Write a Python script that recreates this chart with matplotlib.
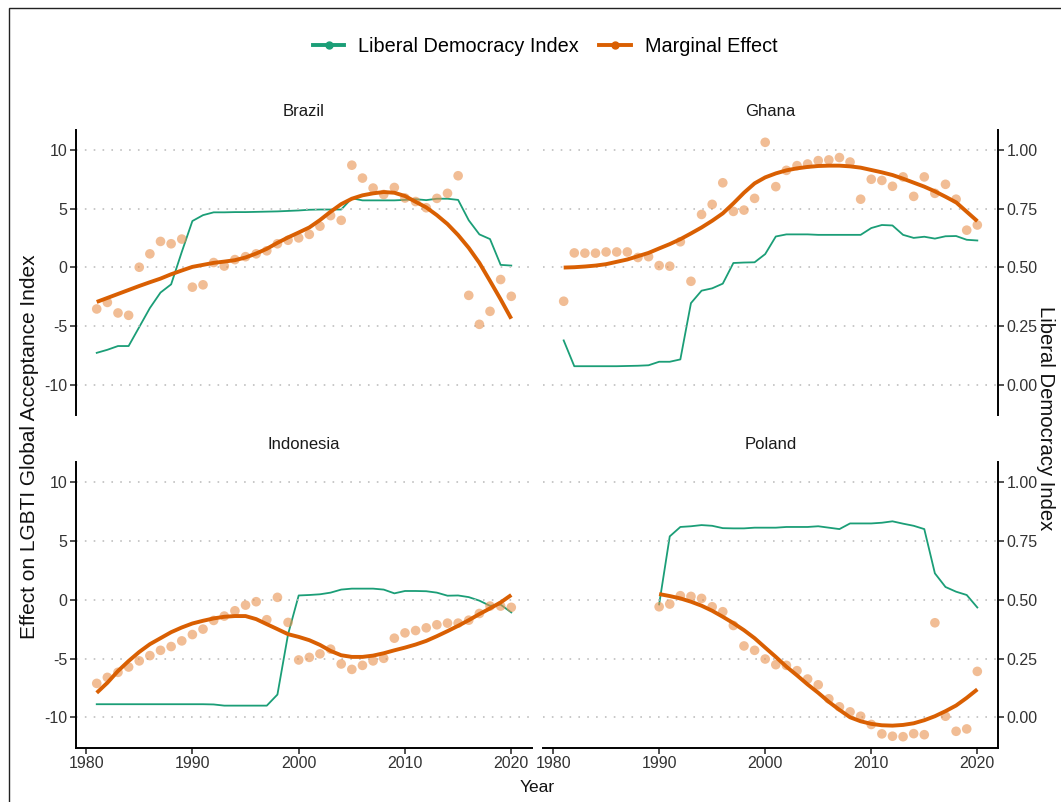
import matplotlib
matplotlib.use("Agg")
import matplotlib.pyplot as plt
from matplotlib.lines import Line2D
from matplotlib.patches import Rectangle

plt.rcParams['font.family'] = ['Liberation Sans', 'DejaVu Sans']

GREEN = '#1b9e77'
ORANGE = '#d95f02'

years_81 = list(range(1981, 2021))
years_90 = list(range(1990, 2021))

# ---------------- Brazil ----------------
brazil_effect = [-3.56, -3.0, -3.9, -4.1, 0.0, 1.14, 2.2, 2.0, 2.4, -1.7,
                 -1.5, 0.4, 0.1, 0.65, 0.9, 1.14, 1.4, 2.0, 2.3, 2.5,
                 2.8, 3.5, 4.4, 4.0, 8.7, 7.6, 6.75, 6.2, 6.8, 5.9,
                 5.6, 5.07, 5.87, 6.3, 7.8, -2.4, -4.87, -3.76, -1.05, -2.48]
brazil_ldi = [0.135, 0.148, 0.164, 0.164, 0.245, 0.326, 0.392, 0.427, 0.565, 0.697,
              0.722, 0.734, 0.734, 0.735, 0.735, 0.736, 0.737, 0.738, 0.740, 0.742,
              0.745, 0.746, 0.746, 0.746, 0.794, 0.785, 0.785, 0.785, 0.785, 0.787,
              0.790, 0.786, 0.792, 0.792, 0.787, 0.700, 0.640, 0.620, 0.510, 0.507]
brazil_smooth = [-2.96, -2.62, -2.28, -1.94, -1.6, -1.28, -0.97, -0.6, -0.28, 0.03,
                 0.2, 0.37, 0.48, 0.6, 0.83, 1.17, 1.57, 2.08, 2.54, 2.96,
                 3.39, 4.02, 4.73, 5.38, 5.84, 6.13, 6.3, 6.41, 6.35, 6.07,
                 5.58, 5.1, 4.44, 3.68, 2.74, 1.65, 0.37, -1.17, -2.74, -4.39]

# ---------------- Ghana ----------------
ghana_effect = [-2.9, 1.22, 1.2, 1.2, 1.3, 1.3, 1.3, 0.83, 0.9, 0.14,
                0.09, 2.17, -1.2, 4.5, 5.36, 7.2, 4.76, 4.87, 5.87, 10.65,
                6.87, 8.26, 8.66, 8.8, 9.09, 9.15, 9.35, 8.97, 5.8, 7.5,
                7.4, 6.9, 7.7, 6.04, 7.7, 6.3, 7.07, 5.8, 3.16, 3.6]
ghana_ldi = [0.188, 0.078, 0.078, 0.078, 0.078, 0.078, 0.079, 0.080, 0.082, 0.097,
             0.097, 0.107, 0.347, 0.400, 0.410, 0.430, 0.518, 0.520, 0.521, 0.556,
             0.631, 0.640, 0.640, 0.640, 0.638, 0.638, 0.638, 0.638, 0.638, 0.667,
             0.680, 0.678, 0.638, 0.625, 0.630, 0.622, 0.632, 0.633, 0.617, 0.614]
ghana_smooth = [-0.03, 0.0, 0.06, 0.14, 0.26, 0.46, 0.66, 0.94, 1.22, 1.6,
                1.97, 2.39, 2.88, 3.39, 3.96, 4.59, 5.44, 6.35, 7.15, 7.66,
                8.0, 8.26, 8.43, 8.55, 8.63, 8.66, 8.66, 8.6, 8.49, 8.29,
                8.09, 7.86, 7.55, 7.21, 6.87, 6.47, 6.01, 5.53, 4.73, 3.93]

# ---------------- Indonesia ----------------
indonesia_effect = [-7.11, -6.6, -6.17, -5.72, -5.2, -4.75, -4.3, -3.98, -3.5, -2.96,
                    -2.5, -1.76, -1.39, -0.94, -0.46, -0.17, -1.7, 0.2, -1.93, -5.12,
                    -4.9, -4.6, -4.2, -5.46, -5.92, -5.58, -5.2, -4.98, -3.27, -2.82,
                    -2.62, -2.39, -2.13, -1.99, -1.99, -1.74, -1.17, -0.54, -0.54, -0.65]
indonesia_ldi = [0.056, 0.056, 0.056, 0.056, 0.056, 0.056, 0.056, 0.056, 0.056, 0.056,
                 0.056, 0.055, 0.050, 0.050, 0.050, 0.050, 0.050, 0.097, 0.353, 0.518,
                 0.520, 0.523, 0.530, 0.543, 0.547, 0.547, 0.547, 0.543, 0.527, 0.537,
                 0.537, 0.536, 0.530, 0.517, 0.518, 0.511, 0.496, 0.474, 0.479, 0.446]
indonesia_smooth = [-7.91, -7.06, -6.06, -5.21, -4.44, -3.78, -3.27, -2.76, -2.36, -2.02,
                    -1.79, -1.59, -1.45, -1.39, -1.39, -1.65, -2.08, -2.5, -2.93, -3.16,
                    -3.44, -3.84, -4.35, -4.72, -4.86, -4.86, -4.75, -4.55, -4.3, -4.07,
                    -3.81, -3.5, -3.1, -2.67, -2.22, -1.74, -1.22, -0.74, -0.23, 0.4]

# ---------------- Poland (1990-2020) ----------------
poland_effect = [-0.6, -0.37, 0.34, 0.28, 0.11, -0.6, -1.02, -2.19, -3.93, -4.3,
                 -5.04, -5.52, -5.58, -6.03, -6.74, -7.23, -8.42, -9.1, -9.53, -9.9,
                 -10.6, -11.4, -11.6, -11.64, -11.38, -11.47, -1.96, -9.9, -11.18, -10.98,
                 -6.09]
poland_ldi = [0.480, 0.769, 0.809, 0.812, 0.817, 0.814, 0.804, 0.803, 0.803, 0.806,
              0.806, 0.806, 0.809, 0.809, 0.809, 0.812, 0.806, 0.800, 0.824, 0.824,
              0.824, 0.827, 0.833, 0.823, 0.814, 0.800, 0.612, 0.554, 0.534, 0.520,
              0.467]
poland_smooth = [0.48, 0.31, 0.11, -0.17, -0.51, -0.94, -1.45, -1.99, -2.59, -3.27,
                 -4.07, -4.86, -5.69, -6.43, -7.2, -7.91, -8.68, -9.36, -9.99, -10.33,
                 -10.55, -10.67, -10.7, -10.64, -10.5, -10.24, -9.9, -9.47, -8.99, -8.34,
                 -7.62]

countries = ['Brazil', 'Ghana', 'Indonesia', 'Poland']
panel_years = [years_81, years_81, years_81, years_90]
panel_effect = [brazil_effect, ghana_effect, indonesia_effect, poland_effect]
panel_ldi = [brazil_ldi, ghana_ldi, indonesia_ldi, poland_ldi]
panel_smooth = [brazil_smooth, ghana_smooth, indonesia_smooth, poland_smooth]

y_ticks = [-10, -5, 0, 5, 10]
ldi_ticks = [0.0, 0.25, 0.5, 0.75, 1.0]
ldi_tick_labels = ['0.00', '0.25', '0.50', '0.75', '1.00']
x_ticks = [1980, 1990, 2000, 2010, 2020]

W, H = 1061, 802
fig = plt.figure(figsize=(W / 100, H / 100), dpi=100)

def fx(px):
    return px / W

def fy(py):
    return 1 - py / H

# axes rectangles in pixels: (left, top, right, bottom)
rects = [(76, 130, 532, 415), (543, 130, 998, 415),
         (76, 462, 532, 748), (543, 462, 998, 748)]

YLIM = (-12.6, 11.7)
XLIM = (1979.05, 2021.95)
LDI_LIM = ((YLIM[0] + 10) / 20, (YLIM[1] + 10) / 20)

TICK_COLOR = '#222222'
LABEL_COLOR = '#333333'

for i, (name, yrs, eff, ldi, sm) in enumerate(zip(countries, panel_years, panel_effect,
                                                 panel_ldi, panel_smooth)):
    l, t, r, b = rects[i]
    ax = fig.add_axes([fx(l), fy(b), fx(r) - fx(l), (b - t) / H])
    tw = ax.twinx()
    tw.set_zorder(ax.get_zorder() - 1)
    ax.patch.set_visible(False)

    ax.set_xlim(*XLIM)
    ax.set_ylim(*YLIM)
    tw.set_ylim(*LDI_LIM)

    # gridlines
    for yv in y_ticks:
        ax.axhline(yv, color='#c4c4c4', lw=1.3, dashes=(0.9, 4.0), zorder=0)

    tw.plot(yrs, ldi, color=GREEN, lw=1.3, zorder=2)
    ax.scatter(yrs, eff, s=48, color='#e8924f', alpha=0.6, edgecolors='none', zorder=3)
    ax.plot(yrs, sm, color=ORANGE, lw=2.8, solid_capstyle='butt', zorder=4)

    left_col = i in (0, 2)
    bottom_row = i in (2, 3)

    for a in (ax, tw):
        for s in a.spines.values():
            s.set_visible(False)
        a.tick_params(axis='both', which='both', length=0, labelleft=False,
                      labelright=False, labelbottom=False, left=False, right=False,
                      bottom=False, top=False)

    ax.set_xticks(x_ticks)
    ax.set_yticks(y_ticks)
    tw.set_yticks(ldi_ticks)

    if left_col:
        ax.spines['left'].set_visible(True)
        ax.spines['left'].set_linewidth(1.4)
        ax.tick_params(axis='y', left=True, labelleft=True, length=4, width=1.1,
                       color=TICK_COLOR, labelsize=11.5, labelcolor=LABEL_COLOR, pad=2)
        ax.set_yticklabels([str(v) for v in y_ticks])
    else:
        tw.spines['right'].set_visible(True)
        tw.spines['right'].set_linewidth(1.4)
        tw.tick_params(axis='y', right=True, labelright=True, length=4, width=1.1,
                       color=TICK_COLOR, labelsize=11.5, labelcolor=LABEL_COLOR, pad=2)
        tw.set_yticklabels(ldi_tick_labels)

    if bottom_row:
        ax.spines['bottom'].set_visible(True)
        ax.spines['bottom'].set_linewidth(1.4)
        ax.tick_params(axis='x', bottom=True, labelbottom=True, length=4, width=1.1,
                       color=TICK_COLOR, labelsize=11.5, labelcolor=LABEL_COLOR, pad=2)
        ax.set_xticklabels([str(v) for v in x_ticks])

    # panel title
    fig.text(fx((l + r) / 2), fy(t - 18), name, ha='center', va='center',
             fontsize=12, color='#1a1a1a')

# axis titles
fig.text(fx(30), fy(447), 'Effect on LGBTI Global Acceptance Index', rotation=90,
         ha='center', va='center', fontsize=15, color='#111111')
fig.text(fx(1045), fy(418), 'Liberal Democracy Index', rotation=270,
         ha='center', va='center', fontsize=14.6, color='#111111')
fig.text(fx(537), fy(787), 'Year', ha='center', va='center', fontsize=12.5,
         color='#111111')

# legend
handles = [Line2D([], [], color=GREEN, lw=2.8, marker='o', ms=5),
           Line2D([], [], color=ORANGE, lw=2.8, marker='o', ms=5)]
fig.legend(handles, ['Liberal Democracy Index', 'Marginal Effect'],
           loc='center', bbox_to_anchor=(fx(545), fy(46)), ncol=2, frameon=False,
           fontsize=14.3, handlelength=1.6, handletextpad=0.7, columnspacing=1.0)

# outer border
fig.add_artist(Rectangle((fx(9), -0.1), 1.2, fy(8) + 0.1, transform=fig.transFigure,
                         fill=False, lw=1.0, ec='#222222'))

fig.savefig('out.png', dpi=100)
